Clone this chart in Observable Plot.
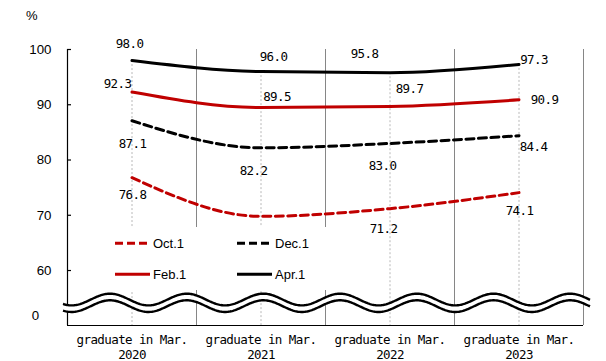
<!DOCTYPE html>
<html><head><meta charset="utf-8">
<script src="https://cdn.jsdelivr.net/npm/d3@7"></script>
<script src="https://cdn.jsdelivr.net/npm/@observablehq/plot@0.6"></script>
<style>
body{margin:0;background:#fff;}
#wrap{position:relative;width:606px;height:361px;}
[font-family*="DejaVu Sans Mono"]{letter-spacing:-0.6px;}
.ovl{position:absolute;left:0;top:0;pointer-events:none;}
</style></head><body><div id="wrap"></div>
<script>
// ---- data ----
const categories = ["2020", "2021", "2022", "2023"];
const xPrefix = "graduate in Mar.";
const oct1 = [76.8, 69.8, 71.2, 74.1];
const dec1 = [87.1, 82.2, 83.0, 84.4];
const feb1 = [92.3, 89.5, 89.7, 90.9];
const apr1 = [98.0, 96.0, 95.8, 97.3];
const seriesNames = ["Oct.1", "Dec.1", "Feb.1", "Apr.1"];
const yTicks = [60, 70, 80, 90, 100];
const yBreakTick = ["0"];
const unitLabel = "%";

// ---- styles / layout ----
const RED = "#c00000";
const MONO = "DejaVu Sans Mono";
const SANS = "Liberation Sans, Arial, sans-serif";
const styleBy = {
  "Oct.1": {stroke: RED, dash: "8,4.5", offs: [[0.5,17.8],[0,18],[-6.5,20.2],[0.5,17.9]]},
  "Dec.1": {stroke: "#000", dash: "8,4.5", offs: [[0.5,23],[-7.5,23.4],[-7.5,22.1],[14.5,11.5]]},
  "Feb.1": {stroke: RED, dash: null, offs: [[-14.5,-8.2],[16,-10.3],[19.5,-17.6],[25.5,0]]},
  "Apr.1": {stroke: "#000", dash: null, offs: [[-2.5,-16.7],[12.5,-14.4],[-25.5,-19.2],[15,-4.6]]}
};
const valuesBy = {"Oct.1": oct1, "Dec.1": dec1, "Feb.1": feb1, "Apr.1": apr1};
const rows = seriesNames.flatMap(s => valuesBy[s].map((v, i) => ({s, i, x: i + 0.5, v})));
// broken axis: the bottom of the frame and the place where "0" is drawn
const yBottom = 50.05, yBreakPos = 51.8;

const marks = [
  // category separators
  Plot.ruleX(categories.map((c, i) => i + 1), {y1: 100, y2: yBottom, stroke: "#868686", strokeWidth: 1}),
  // drop lines
  Plot.ruleX(apr1, {x: (d, i) => i + 0.5, y1: d => d, y2: yBottom, stroke: "#b8b8b8", strokeDasharray: "2,2", strokeWidth: 1}),
  // axes lines
  Plot.ruleX([0], {y1: 100, y2: yBottom, stroke: "#000", strokeWidth: 1.2}),
  Plot.ruleY([yBottom], {stroke: "#000", strokeWidth: 1.2}),
  Plot.ruleY(yTicks, {x1: 0, x2: 0, insetRight: -4, stroke: "#000", strokeWidth: 1.2}),
  Plot.axisY(yTicks, {tickSize: 0, tickPadding: 16, fontSize: 13.3, fontFamily: SANS, label: null, fill: "#000"}),
  Plot.text(yBreakTick, {x: 0, y: yBreakPos, text: d => d, dx: -32, textAnchor: "middle", fontSize: 13.3, fontFamily: SANS, fill: "#000"}),
  Plot.axisX(categories.map((c, i) => i + 0.5), {
    tickFormat: d => xPrefix + "\n" + categories[Math.floor(d)],
    tickSize: 0, tickPadding: 8, fontSize: 12.5, fontFamily: MONO, lineHeight: 1.2, label: null, fill: "#000"
  }),
  // series lines
  ...seriesNames.map(s => Plot.line(rows.filter(r => r.s === s), {
    x: "x", y: "v", stroke: styleBy[s].stroke, strokeWidth: 3,
    strokeDasharray: styleBy[s].dash, curve: "monotone-x"
  })),
  // labels
  ...rows.map(r => Plot.text([r], {
    x: "x", y: "v", text: d => d.v.toFixed(1),
    dx: styleBy[r.s].offs[r.i][0], dy: styleBy[r.s].offs[r.i][1],
    fontFamily: MONO, fontSize: 12.5, fill: "#000", textAnchor: "middle", lineAnchor: "middle"
  }))
];

const chart = Plot.plot({
  width: 606, height: 361,
  marginLeft: 67, marginRight: 23, marginTop: 49, marginBottom: 36,
  style: {fontFamily: SANS, background: "#fff", overflow: "visible"},
  x: {type: "linear", domain: [0, categories.length]},
  y: {type: "linear", domain: [yBottom, 100]},
  marks
});
document.getElementById("wrap").appendChild(chart);

// ---- axis break wave (decoration) ----
const xs = v => chart.scale("x").apply(v);
const ys = v => chart.scale("y").apply(v);
const svg = d3.select(chart);
const x0 = xs(0) - 4, x1 = xs(categories.length) + 7;
const period = 76.7, amp = 5.85, phase = 110;
const cu = ys(yBreakPos) - 15.8, cl = cu + 6.6;
const pts = d3.range(x0, x1 + 0.5, 1);
const wave = c => pts.map(x => [x, c - amp * Math.cos(2 * Math.PI * (x - phase) / period)]);
const up = wave(cu), lo = wave(cl);
const g = svg.append("g");
g.append("path").attr("d", d3.line()(up.concat(lo.slice().reverse())) + "Z").attr("fill", "#fff");
g.append("path").attr("d", d3.line()(up)).attr("fill", "none").attr("stroke", "#000").attr("stroke-width", 2.4);
g.append("path").attr("d", d3.line()(lo)).attr("fill", "none").attr("stroke", "#000").attr("stroke-width", 2.4);

// ---- overlay: unit + legend ----
const ov = d3.select("#wrap").append("svg").attr("class", "ovl").attr("width", 606).attr("height", 361)
  .attr("font-family", SANS);
ov.append("text").attr("x", 26).attr("y", 20).attr("font-size", 13).text(unitLabel);
ov.append("rect").attr("x", 100).attr("y", 227).attr("width", 235).attr("height", 63).attr("fill", "#fff");
const legPos = {"Oct.1": [115, 243.3], "Dec.1": [237, 243.3], "Feb.1": [115, 274.3], "Apr.1": [237, 274.3]};
seriesNames.forEach(s => {
  const [lx, ly] = legPos[s];
  const st = styleBy[s];
  ov.append("line").attr("x1", lx).attr("x2", lx + (st.dash ? 33 : 35)).attr("y1", ly).attr("y2", ly)
    .attr("stroke", st.stroke).attr("stroke-width", 3).attr("stroke-dasharray", st.dash ? "8,4" : null);
  ov.append("text").attr("x", lx + 38).attr("y", ly).attr("dy", "0.35em").attr("font-size", 13).attr("fill", "#000").text(s);
});
</script></body></html>
